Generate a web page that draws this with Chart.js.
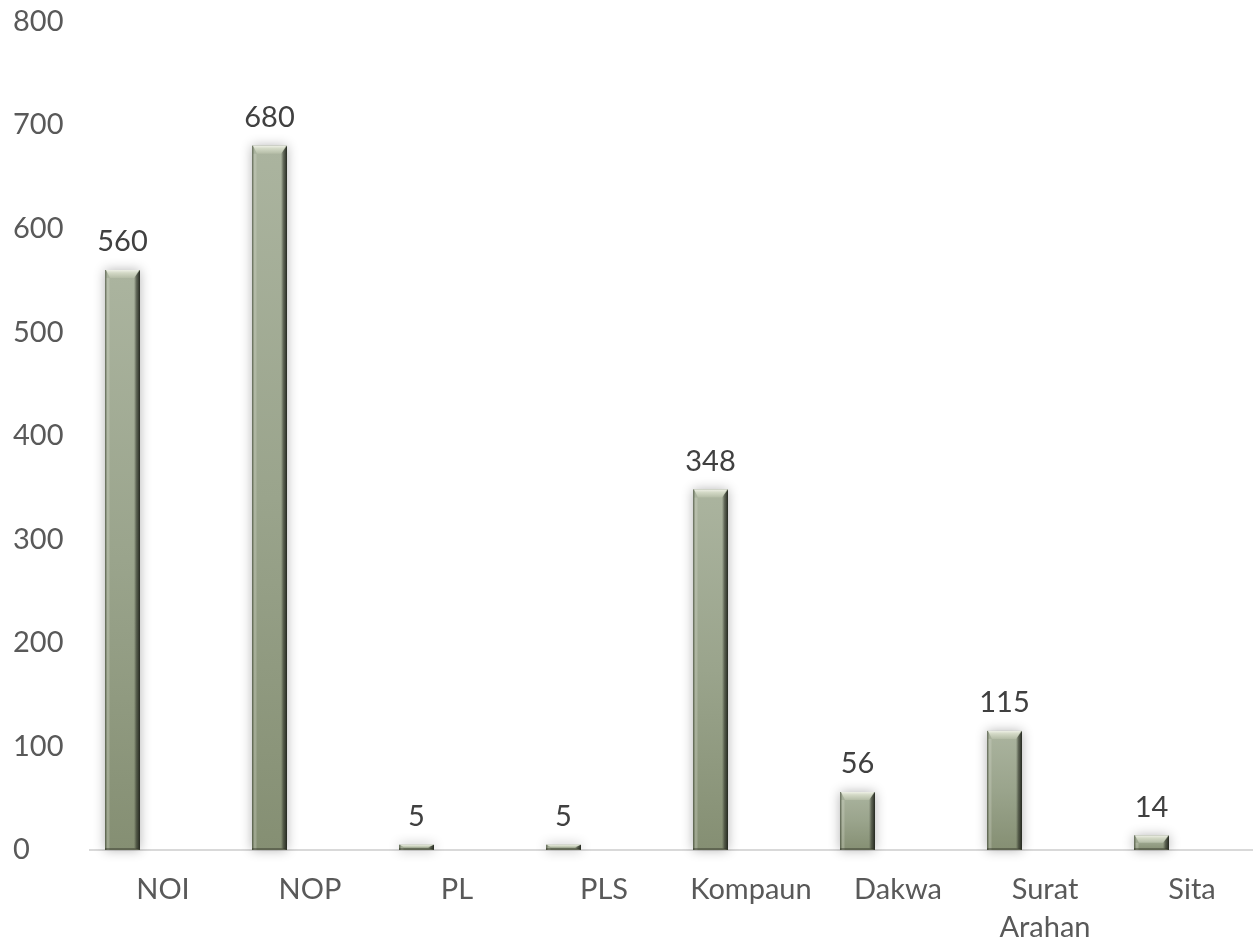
<!DOCTYPE html>
<html>
<head>
<meta charset="utf-8">
<script src="https://cdn.jsdelivr.net/npm/chart.js@4.4.1/dist/chart.umd.min.js"></script>
<style>
  html, body { margin: 0; padding: 0; background: #ffffff; overflow: hidden; }
  #wrap { position: relative; width: 1270px; height: 941px; }
</style>
</head>
<body>
<div id="wrap"><canvas id="c"></canvas></div>
<script>
const categories = ['NOI', 'NOP', 'PL', 'PLS', 'Kompaun', 'Dakwa', ['Surat', 'Arahan'], 'Sita'];
const values = [560, 680, 5, 5, 348, 56, 115, 14];
const emptySeriesB = [null, null, null, null, null, null, null, null];
const emptySeriesC = [null, null, null, null, null, null, null, null];
const yTicks = [0, 100, 200, 300, 400, 500, 600, 700, 800];

const FONT = 'Lato, "Open Sans", "DejaVu Sans", sans-serif';

function barGradient(ctx) {
  const chart = ctx.chart;
  const area = chart.chartArea;
  if (!area || ctx.raw == null) return '#97a08a';
  const ys = chart.scales.y;
  const top = ys.getPixelForValue(ctx.raw);
  const base = ys.getPixelForValue(0);
  const g = chart.ctx.createLinearGradient(0, top, 0, base);
  g.addColorStop(0, '#abb49f');
  g.addColorStop(0.5, '#9aa48c');
  g.addColorStop(1, '#858f73');
  return g;
}

const bevelPlugin = {
  id: 'bevel',
  beforeDatasetsDraw(chart) {
    const ctx = chart.ctx;
    const meta = chart.getDatasetMeta(0);
    meta.data.forEach((bar) => {
      const w = bar.width;
      const left = bar.x - w / 2;
      const top = bar.y;
      const h = bar.base - bar.y;
      ctx.save();
      ctx.shadowColor = 'rgba(0,0,0,0.3)';
      ctx.shadowBlur = 12;
      ctx.fillStyle = '#8f9783';
      ctx.fillRect(left, top, w, h);
      ctx.restore();
    });
  },
  afterDatasetsDraw(chart) {
    const ctx = chart.ctx;
    const meta = chart.getDatasetMeta(0);
    meta.data.forEach((bar) => {
      const w = bar.width;
      const left = bar.x - w / 2;
      const right = left + w;
      const top = bar.y;
      const base = bar.base;
      const h = base - top;
      const bev = Math.min(8, h / 2);
      ctx.save();
      ctx.fillStyle = 'rgba(70,76,60,0.55)';
      ctx.fillRect(left, top, 1.5, h);
      ctx.fillStyle = 'rgba(215,220,205,0.3)';
      ctx.fillRect(left + 1.5, top + bev, 3, h - bev);
      const rg = ctx.createLinearGradient(right - 6, 0, right, 0);
      rg.addColorStop(0, 'rgba(40,44,34,0)');
      rg.addColorStop(0.4, 'rgba(40,44,34,0.55)');
      rg.addColorStop(1, 'rgba(30,33,26,0.95)');
      ctx.fillStyle = rg;
      ctx.beginPath();
      ctx.moveTo(right, top);
      ctx.lineTo(right - 6, top + bev);
      ctx.lineTo(right - 6, base - 2);
      ctx.lineTo(right, base);
      ctx.closePath();
      ctx.fill();
      ctx.fillStyle = 'rgba(50,54,42,0.45)';
      ctx.fillRect(left, base - 2, w, 2);
      const tg = ctx.createLinearGradient(0, top, 0, top + bev);
      tg.addColorStop(0, '#eef0e6');
      tg.addColorStop(0.35, '#d3d9c6');
      tg.addColorStop(1, '#b4bca6');
      ctx.fillStyle = tg;
      ctx.beginPath();
      ctx.moveTo(left + 1, top);
      ctx.lineTo(right - 1, top);
      ctx.lineTo(right - 6, top + bev);
      ctx.lineTo(left + 5, top + bev);
      ctx.closePath();
      ctx.fill();
      ctx.restore();
    });
  }
};

const valueLabels = {
  id: 'valueLabels',
  afterDatasetsDraw(chart) {
    const ctx = chart.ctx;
    const meta = chart.getDatasetMeta(0);
    ctx.save();
    ctx.font = '29px ' + FONT;
    ctx.fillStyle = '#404040';
    ctx.textAlign = 'center';
    ctx.textBaseline = 'alphabetic';
    meta.data.forEach((bar, i) => {
      ctx.fillText(String(values[i]), bar.x, bar.y - 19);
    });
    ctx.restore();
  }
};

new Chart(document.getElementById('c'), {
  type: 'bar',
  data: {
    labels: categories,
    datasets: [
      { label: 'A', data: values, backgroundColor: barGradient, borderWidth: 0 },
      { label: 'B', data: emptySeriesB, backgroundColor: '#888f7c' },
      { label: 'C', data: emptySeriesC, backgroundColor: '#888f7c' }
    ]
  },
  options: {
    responsive: true,
    maintainAspectRatio: false,
    animation: false,
    devicePixelRatio: 1,
    categoryPercentage: 0.8265,
    barPercentage: 0.864,
    layout: { padding: { left: 13, right: 4.5, top: 21.5, bottom: 0 } },
    plugins: {
      legend: { display: false },
      tooltip: { enabled: false }
    },
    scales: {
      x: {
        afterFit(scale) { scale.height = 91; },
        grid: { display: false, drawTicks: false },
        border: { display: true, color: '#d9d9d9', width: 2 },
        ticks: {
          color: '#595959',
          font: { family: FONT, size: 29, lineHeight: 1.3 },
          padding: 21,
          maxRotation: 0,
          autoSkip: false
        }
      },
      y: {
        min: 0,
        max: 800,
        afterBuildTicks(scale) { scale.ticks = yTicks.map(v => ({ value: v })); },
        afterFit(scale) { scale.width = 76.5; },
        grid: { display: false, drawTicks: false },
        border: { display: false },
        ticks: {
          color: '#595959',
          crossAlign: 'far',
          font: { family: FONT, size: 29 },
          padding: 0
        }
      }
    }
  },
  plugins: [bevelPlugin, valueLabels]
});
</script>
</body>
</html>
